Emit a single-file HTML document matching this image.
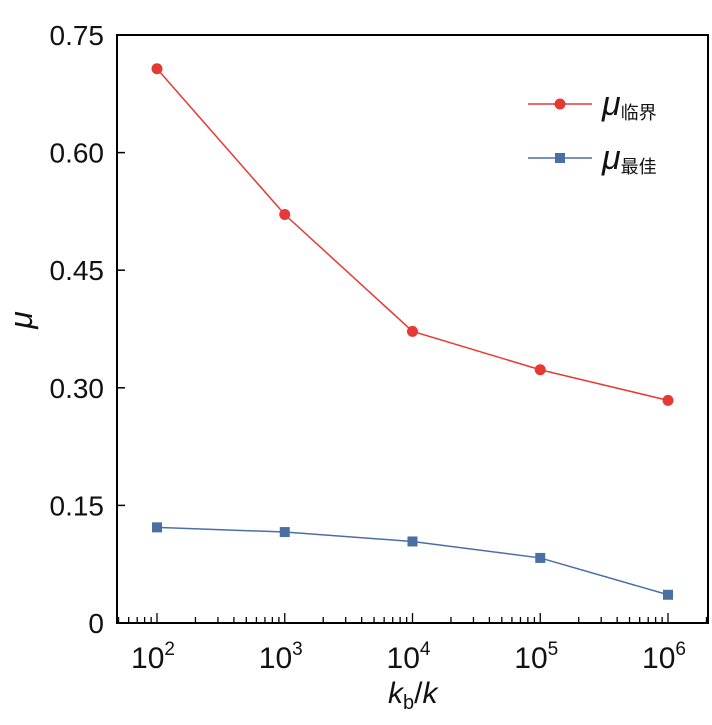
<!DOCTYPE html>
<html><head><meta charset="utf-8"><style>
html,body{margin:0;padding:0;background:#fff;width:712px;height:725px;overflow:hidden}
text{font-family:"Liberation Sans","Noto Sans CJK SC",sans-serif;fill:#111}
</style></head><body>
<svg id="chart" width="712" height="725" xmlns="http://www.w3.org/2000/svg">
<g id="g"></g>
</svg>
<script>
const xExponents = [2, 3, 4, 5, 6];
const critValues = [0.707, 0.521, 0.372, 0.323, 0.284];
const optValues = [0.122, 0.116, 0.104, 0.083, 0.036];
const yTicks = [0, 0.15, 0.30, 0.45, 0.60, 0.75];
const yTickLabels = ["0", "0.15", "0.30", "0.45", "0.60", "0.75"];

const L=117, R=708, T=35, B=623;
const xs = e => 157 + (e-2)*127.75;
const ys = v => B - v/0.75*(B-T);
const NS="http://www.w3.org/2000/svg";
const g=document.getElementById('g');
function mk(tag, attrs, parent){const el=document.createElementNS(NS,tag);for(const k in attrs)el.setAttribute(k,attrs[k]);(parent||g).appendChild(el);return el;}

const frame=mk('rect',{x:L,y:T,width:R-L,height:B-T,fill:'none',stroke:'#000','stroke-width':2});



yTicks.forEach((v,i)=>{
  const y=ys(v);
  const t=mk('line',{x1:L,x2:L+8,y1:y,y2:y,stroke:'#000','stroke-width':1.5});
  
  
  const lb=mk('text',{x:104,y:y+10,'text-anchor':'end','font-size':28});
  lb.textContent=yTickLabels[i];
  
  
});
for(let d=1;d<=6;d++){
  for(let m=1;m<=9;m++){
    const e=d+Math.log10(m);
    const x=xs(e);
    if(x<L+1||x>R-1)continue;
    const major=m===1;
    const t=mk('line',{x1:x,x2:x,y1:B,y2:B-(major?10:6),stroke:'#000','stroke-width':1.3});
    
    
  }
}
xExponents.forEach(e=>{
  const lb=mk('text',{x:xs(e)-4,y:668,'text-anchor':'middle','font-size':30});
  lb.textContent='10';
  
  
  const sp=mk('tspan',{dy:-13,'font-size':19});
  sp.textContent=String(e);
  lb.appendChild(sp);
});
const xt=mk('text',{x:388,y:703,'font-size':30,'font-style':'italic'});


xt.innerHTML='k<tspan dy="6" font-size="20" font-style="normal">b</tspan><tspan dy="-6" font-style="normal">/</tspan>k';
const yt=mk('text',{x:0,y:0,'font-size':32,'font-style':'italic',transform:'translate(32,320) rotate(-90)','text-anchor':'middle'});
yt.textContent='μ';



function series(vals,color,shape,name){
  const pts=vals.map((v,i)=>xs(xExponents[i])+','+ys(v)).join(' ');
  const pl=mk('polyline',{points:pts,fill:'none',stroke:color,'stroke-width':1.5});
  
  
  vals.forEach((v,i)=>{
    const x=xs(xExponents[i]),y=ys(v);
    const m=shape==='c'?mk('circle',{cx:x,cy:y,r:5.5,fill:color}):mk('rect',{x:x-5,y:y-5,width:10,height:10,fill:color});
    
    
  });
}
series(critValues,'#e53935','c','mu-critical');
series(optValues,'#4a6fa5','s','mu-optimal');

function legend(y,color,shape,sub,name){
  const ln=mk('line',{x1:528,x2:592,y1:y,y2:y,stroke:color,'stroke-width':1.5});
  
  
  const m=shape==='c'?mk('circle',{cx:560,cy:y,r:5.5,fill:color}):mk('rect',{x:555,y:y-5,width:10,height:10,fill:color});
  
  
  const t=mk('text',{x:602,y:y+11,'font-size':34,'font-style':'italic'});
  t.innerHTML='μ<tspan dy="4" font-size="18" font-style="normal">'+sub+'</tspan>';
  
  
}
legend(104,'#e53935','c','临界','mu-critical');
legend(158,'#4a6fa5','s','最佳','mu-optimal');
</script>
</body></html>
